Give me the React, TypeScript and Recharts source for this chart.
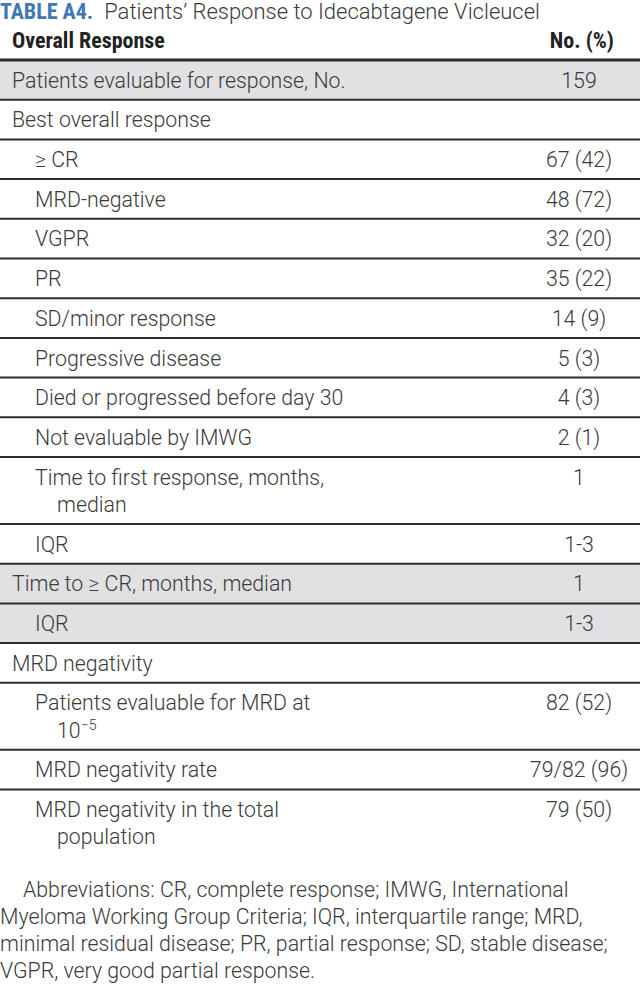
import React from 'react';
import { ComposedChart, XAxis, YAxis, Scatter, ReferenceArea, ReferenceLine } from 'recharts';

const W = 640;
const H = 993;

const titleTag = 'TABLE A4.';
const titleText = 'Patients’ Response to Idecabtagene Vicleucel';
const headerLeft = 'Overall Response';
const headerRight = 'No. (%)';

const rowLabels: string[][] = [
  ['Patients evaluable for response, No.'],
  ['Best overall response'],
  ['≥ CR'],
  ['MRD-negative'],
  ['VGPR'],
  ['PR'],
  ['SD/minor response'],
  ['Progressive disease'],
  ['Died or progressed before day 30'],
  ['Not evaluable by IMWG'],
  ['Time to first response, months,', 'median'],
  ['IQR'],
  ['Time to ≥ CR, months, median'],
  ['IQR'],
  ['MRD negativity'],
  ['Patients evaluable for MRD at', '10^−5'],
  ['MRD negativity rate'],
  ['MRD negativity in the total', 'population'],
];
const rowValues = ['159', '', '67 (42)', '48 (72)', '32 (20)', '35 (22)', '14 (9)', '5 (3)', '4 (3)', '2 (1)', '1', '1-3', '1', '1-3', '', '82 (52)', '79/82 (96)', '79 (50)'];
const rowIndent = [0, 0, 1, 1, 1, 1, 1, 1, 1, 1, 1, 1, 0, 1, 0, 1, 1, 1];
const rowShaded = [1, 0, 0, 0, 0, 0, 0, 0, 0, 0, 0, 0, 1, 1, 0, 0, 0, 0];

const footnoteLines = [
  'Abbreviations: CR, complete response; IMWG, International',
  'Myeloma Working Group Criteria; IQR, interquartile range; MRD,',
  'minimal residual disease; PR, partial response; SD, stable disease;',
  'VGPR, very good partial response.',
];

// ---- layout constants ----
const FONT = "Roboto, 'Liberation Sans', sans-serif";
const BOLD_FONT = "'Liberation Sans Narrow', 'Roboto Condensed', Roboto, sans-serif";
const TEXT = '#3a3a3a';
const BLUE = '#3d79b4';
const SHADE = '#e1e0e2';
const RULE = '#2b2b2b';
const FS = 21.3;
const SINGLE = 39.7;
const LINE_H = 27.3;
const TABLE_TOP = 60;
const X0 = 12;
const INDENT = 23;
const VALUE_X = 579;

let cursor = TABLE_TOP;
const rows = rowLabels.map((lines, i) => {
  const h = SINGLE + (lines.length - 1) * LINE_H;
  const top = cursor;
  cursor += h;
  return {
    idx: i,
    top,
    bottom: top + h,
    lines,
    value: rowValues[i],
    shaded: rowShaded[i] === 1,
    lx: X0 + rowIndent[i] * INDENT,
    vx: VALUE_X,
    ty: top + 20,
  };
});
const tableBottom = cursor;

const footStart = tableBottom + 33;
const footData = footnoteLines.map((t, i) => ({ t, fx: i === 0 ? 23 : 0, fy: footStart + i * 27 }));

const headData = [
  { t: 'title', hx: 0, hy: 11 },
  { t: 'headL', hx: X0, hy: 40 },
  { t: 'headR', hx: 614, hy: 40 },
];

const renderLine = (s: string) => {
  const k = s.indexOf('^');
  if (k < 0) return s;
  return (
    <>
      {s.slice(0, k)}
      <tspan dy={-8} fontSize={14}>{s.slice(k + 1)}</tspan>
    </>
  );
};

const LabelShape = (props: any) => {
  const { cx, cy, payload } = props;
  return (
    <g>
      {payload.lines.map((ln: string, j: number) => (
        <text
          key={j}
          x={cx + (j > 0 ? 22 : 0)}
          y={cy + j * LINE_H}
          dy="0.36em"
          fontFamily={FONT}
          fontWeight={300}
          fontSize={FS}
          fill={TEXT}
        >
          {renderLine(ln)}
        </text>
      ))}
    </g>
  );
};

const ValueShape = (props: any) => {
  const { cx, cy, payload } = props;
  return (
    <text x={cx} y={cy} dy="0.36em" textAnchor="middle" fontFamily={FONT} fontWeight={300} fontSize={FS} fill={TEXT}>
      {payload.value}
    </text>
  );
};

const FootShape = (props: any) => {
  const { cx, cy, payload } = props;
  return (
    <text x={cx} y={cy} dy="0.36em" fontFamily={FONT} fontWeight={300} fontSize={FS} fill={TEXT}>
      {payload.t}
    </text>
  );
};

const HeadShape = (props: any) => {
  const { cx, cy, payload } = props;
  if (payload.t === 'title') {
    return (
      <text x={cx} y={cy} dy="0.36em" fontSize={22} fill={TEXT}>
        <tspan fontFamily={BOLD_FONT} fontWeight={700} fill={BLUE}>{titleTag}</tspan>
        <tspan fontFamily={FONT} fontWeight={300} dx={11}>{titleText}</tspan>
      </text>
    );
  }
  const right = payload.t === 'headR';
  return (
    <text
      x={cx}
      y={cy}
      dy="0.36em"
      textAnchor={right ? 'end' : 'start'}
      fontFamily={BOLD_FONT}
      fontWeight={700}
      fontSize={22}
      fill="#222"
    >
      {right ? headerRight : headerLeft}
    </text>
  );
};

export default function App() {
  return (
    <div style={{ position: 'absolute', left: 0, top: 0, width: W, height: H, background: '#fff' }}>
      <ComposedChart width={W} height={H} margin={{ top: 0, right: 0, bottom: 0, left: 0 }}>
        <XAxis type="number" dataKey="x" domain={[0, W]} hide allowDataOverflow />
        <YAxis type="number" dataKey="y" domain={[0, H]} reversed hide allowDataOverflow />
        {rows.filter((r) => r.shaded).map((r) => (
          <ReferenceArea key={'bg' + r.idx} x1={0} x2={W} y1={r.top} y2={r.bottom} fill={SHADE} fillOpacity={1} stroke="none" ifOverflow="visible" />
        ))}
        <ReferenceLine y={TABLE_TOP} stroke={RULE} strokeWidth={3} ifOverflow="visible" />
        {rows.slice(0, -1).map((r) => (
          <ReferenceLine key={'ln' + r.idx} y={r.bottom} stroke={RULE} strokeWidth={2} ifOverflow="visible" />
        ))}
        <Scatter data={rows.map((r) => ({ ...r, x: r.lx, y: r.ty }))} shape={LabelShape} isAnimationActive={false} />
        <Scatter data={rows.filter((r) => r.value).map((r) => ({ ...r, x: r.vx, y: r.ty }))} shape={ValueShape} isAnimationActive={false} />
        <Scatter data={footData.map((f) => ({ ...f, x: f.fx, y: f.fy }))} shape={FootShape} isAnimationActive={false} />
        <Scatter data={headData.map((h) => ({ ...h, x: h.hx, y: h.hy }))} shape={HeadShape} isAnimationActive={false} />
      </ComposedChart>
    </div>
  );
}
